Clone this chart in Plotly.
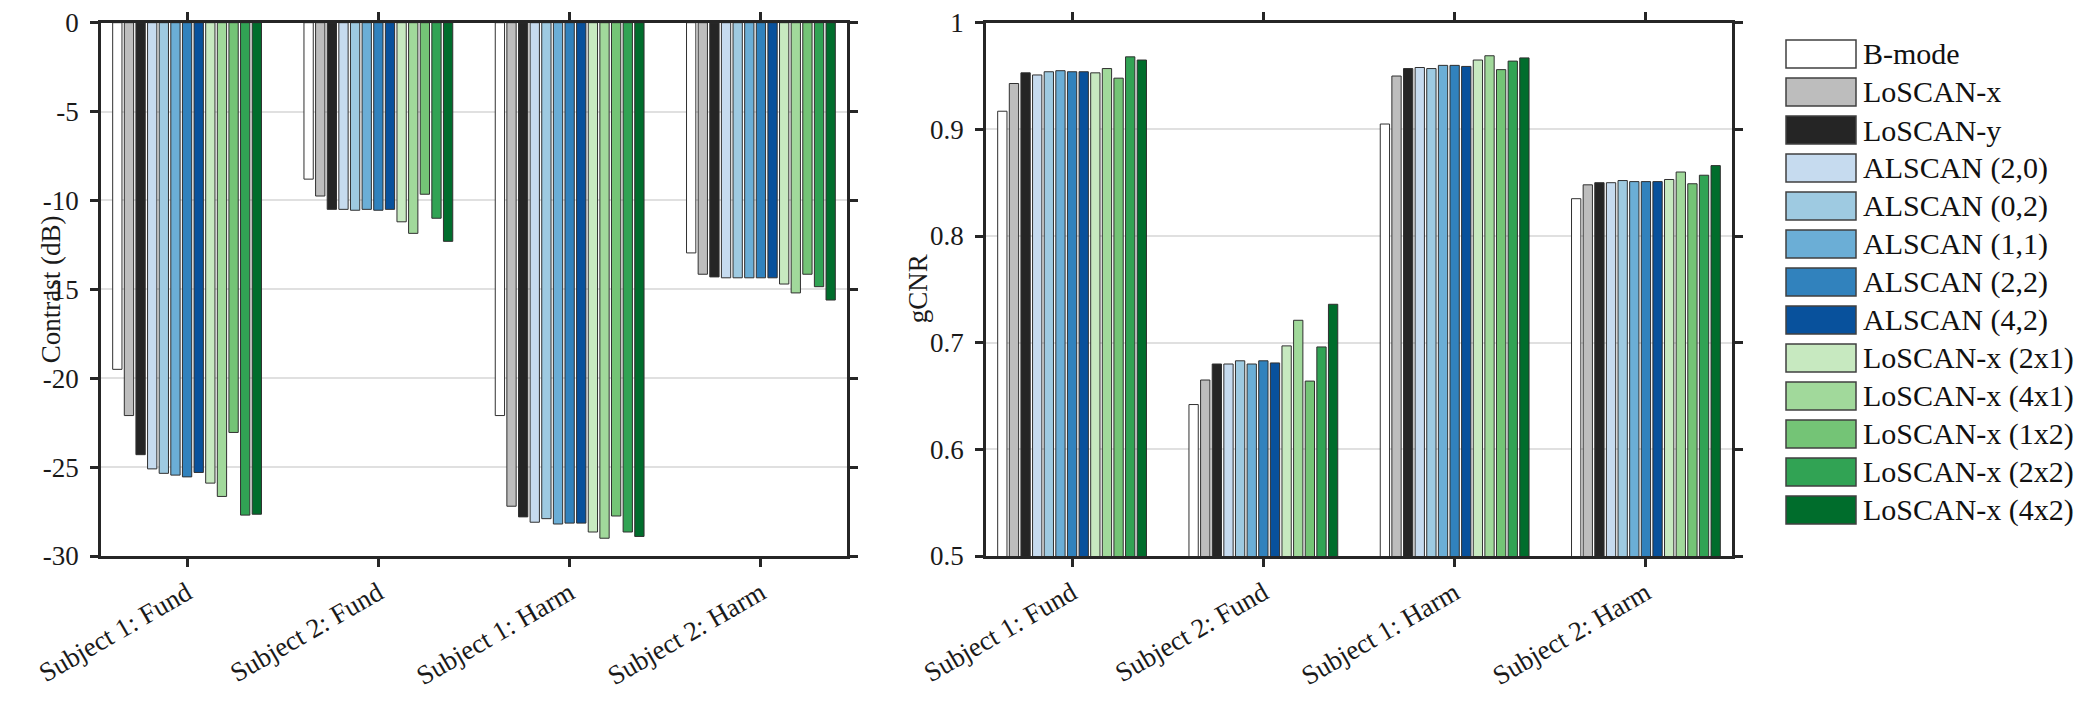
import plotly.graph_objects as go
from plotly.subplots import make_subplots

# ---------------- data ----------------
categories = ["Subject 1: Fund", "Subject 2: Fund", "Subject 1: Harm", "Subject 2: Harm"]

methods = ["B-mode", "LoSCAN-x", "LoSCAN-y", "ALSCAN (2,0)", "ALSCAN (0,2)", "ALSCAN (1,1)",
           "ALSCAN (2,2)", "ALSCAN (4,2)", "LoSCAN-x (2x1)", "LoSCAN-x (4x1)",
           "LoSCAN-x (1x2)", "LoSCAN-x (2x2)", "LoSCAN-x (4x2)"]

colors = ["#ffffff", "#bdbdbd", "#252525", "#c6dbef", "#9ecae1", "#6baed6",
          "#3182bd", "#08519c", "#c7e9c0", "#a1d99b", "#74c476", "#31a354", "#006d2c"]

# Contrast (dB), one list per category, in method order
contrast_s1_fund = [-19.5, -22.1, -24.3, -25.1, -25.35, -25.45, -25.55, -25.3, -25.9, -26.65, -23.05, -27.7, -27.65]
contrast_s2_fund = [-8.8, -9.75, -10.5, -10.5, -10.55, -10.5, -10.55, -10.5, -11.2, -11.85, -9.65, -11.0, -12.3]
contrast_s1_harm = [-22.1, -27.2, -27.8, -28.1, -27.9, -28.2, -28.15, -28.15, -28.65, -29.0, -27.75, -28.65, -28.9]
contrast_s2_harm = [-12.95, -14.15, -14.3, -14.35, -14.35, -14.35, -14.35, -14.35, -14.7, -15.2, -14.15, -14.85, -15.6]

# gCNR, one list per category, in method order
gcnr_s1_fund = [0.917, 0.943, 0.953, 0.951, 0.954, 0.955, 0.954, 0.954, 0.953, 0.957, 0.948, 0.968, 0.965]
gcnr_s2_fund = [0.642, 0.665, 0.680, 0.680, 0.683, 0.680, 0.683, 0.681, 0.697, 0.721, 0.664, 0.696, 0.736]
gcnr_s1_harm = [0.905, 0.950, 0.957, 0.958, 0.957, 0.960, 0.960, 0.959, 0.965, 0.969, 0.956, 0.964, 0.967]
gcnr_s2_harm = [0.835, 0.848, 0.850, 0.850, 0.852, 0.851, 0.851, 0.851, 0.853, 0.860, 0.849, 0.857, 0.866]

contrast_ticks = [-30, -25, -20, -15, -10, -5, 0]
contrast_ticktext = ["-30", "-25", "-20", "-15", "-10", "-5", "0"]
gcnr_ticks = [0.5, 0.6, 0.7, 0.8, 0.9, 1.0]
gcnr_ticktext = ["0.5", "0.6", "0.7", "0.8", "0.9", "1"]

# ---------------- figure ----------------
W, H = 2100, 703
FONT = "Liberation Serif, Times New Roman, serif"
AXC = "#262626"

contrast_by_cat = [contrast_s1_fund, contrast_s2_fund, contrast_s1_harm, contrast_s2_harm]
gcnr_by_cat = [gcnr_s1_fund, gcnr_s2_fund, gcnr_s1_harm, gcnr_s2_harm]

fig = make_subplots(rows=1, cols=2)

for i, (name, col) in enumerate(zip(methods, colors)):
    fig.add_trace(go.Bar(
        x=categories, y=[c[i] for c in contrast_by_cat], name=name,
        marker=dict(color=col, line=dict(color="#303030", width=1)),
        showlegend=False), row=1, col=1)
    fig.add_trace(go.Bar(
        x=categories, y=[g[i] for g in gcnr_by_cat], name=name,
        marker=dict(color=col, line=dict(color="#303030", width=1)),
        showlegend=False), row=1, col=2)

def px_x(p):
    return p / W

def px_y(p):
    return 1 - p / H

y_dom = [px_y(556), px_y(22.7)]

axis_common = dict(
    showline=True, linewidth=2.5, linecolor=AXC, mirror="ticks",
    ticks="outside", ticklen=8, tickwidth=2.5, tickcolor=AXC,
    tickfont=dict(family=FONT, size=27, color="#1a1a1a"),
    zeroline=False, automargin=False,
)

fig.update_xaxes(**axis_common, tickangle=-30, range=[-0.45, 3.45], showgrid=False)
fig.update_yaxes(**axis_common, showgrid=True, gridcolor="#e0e0e0", gridwidth=2,
                 ticklabelstandoff=6, domain=y_dom)

fig.update_layout(
    xaxis=dict(domain=[px_x(101), px_x(847)]),
    xaxis2=dict(domain=[px_x(986), px_x(1732)]),
    yaxis=dict(range=[-30, 0], tickvals=contrast_ticks, ticktext=contrast_ticktext),
    yaxis2=dict(range=[0.5, 1.0], tickvals=gcnr_ticks, ticktext=gcnr_ticktext),
)

# axis titles
fig.add_annotation(x=px_x(34), y=(y_dom[0] + y_dom[1]) / 2, xref="paper", yref="paper",
                   text="Contrast (dB)", textangle=-90, showarrow=False,
                   font=dict(family=FONT, size=27, color="#1a1a1a"))
fig.add_annotation(x=px_x(918), y=(y_dom[0] + y_dom[1]) / 2, xref="paper", yref="paper",
                   text="gCNR", textangle=-90, showarrow=False,
                   font=dict(family=FONT, size=27, color="#1a1a1a"))

# custom legend (boxes + labels)
box_x0, box_x1 = 1786, 1856
row_top0, row_h, row_step = 40, 28, 38
for i, (name, col) in enumerate(zip(methods, colors)):
    top = row_top0 + i * row_step
    fig.add_shape(type="rect", xref="paper", yref="paper",
                  x0=px_x(box_x0), x1=px_x(box_x1), y0=px_y(top + row_h), y1=px_y(top),
                  fillcolor=col, line=dict(color="#404040", width=1.5))
    fig.add_annotation(x=px_x(1861), y=px_y(top + row_h / 2), xref="paper", yref="paper",
                       text=name, showarrow=False, xanchor="left", yanchor="middle",
                       font=dict(family=FONT, size=30, color="#111111"))

fig.update_layout(
    width=W, height=H, margin=dict(l=0, r=0, t=0, b=0),
    barmode="group", bargap=0.21, bargroupgap=0.2,
    plot_bgcolor="white", paper_bgcolor="white",
    showlegend=False,
    font=dict(family=FONT, size=27, color="#1a1a1a"),
)

fig.write_html("out.html", config={"displayModeBar": False},
               post_script="document.body.style.margin='0px';")
